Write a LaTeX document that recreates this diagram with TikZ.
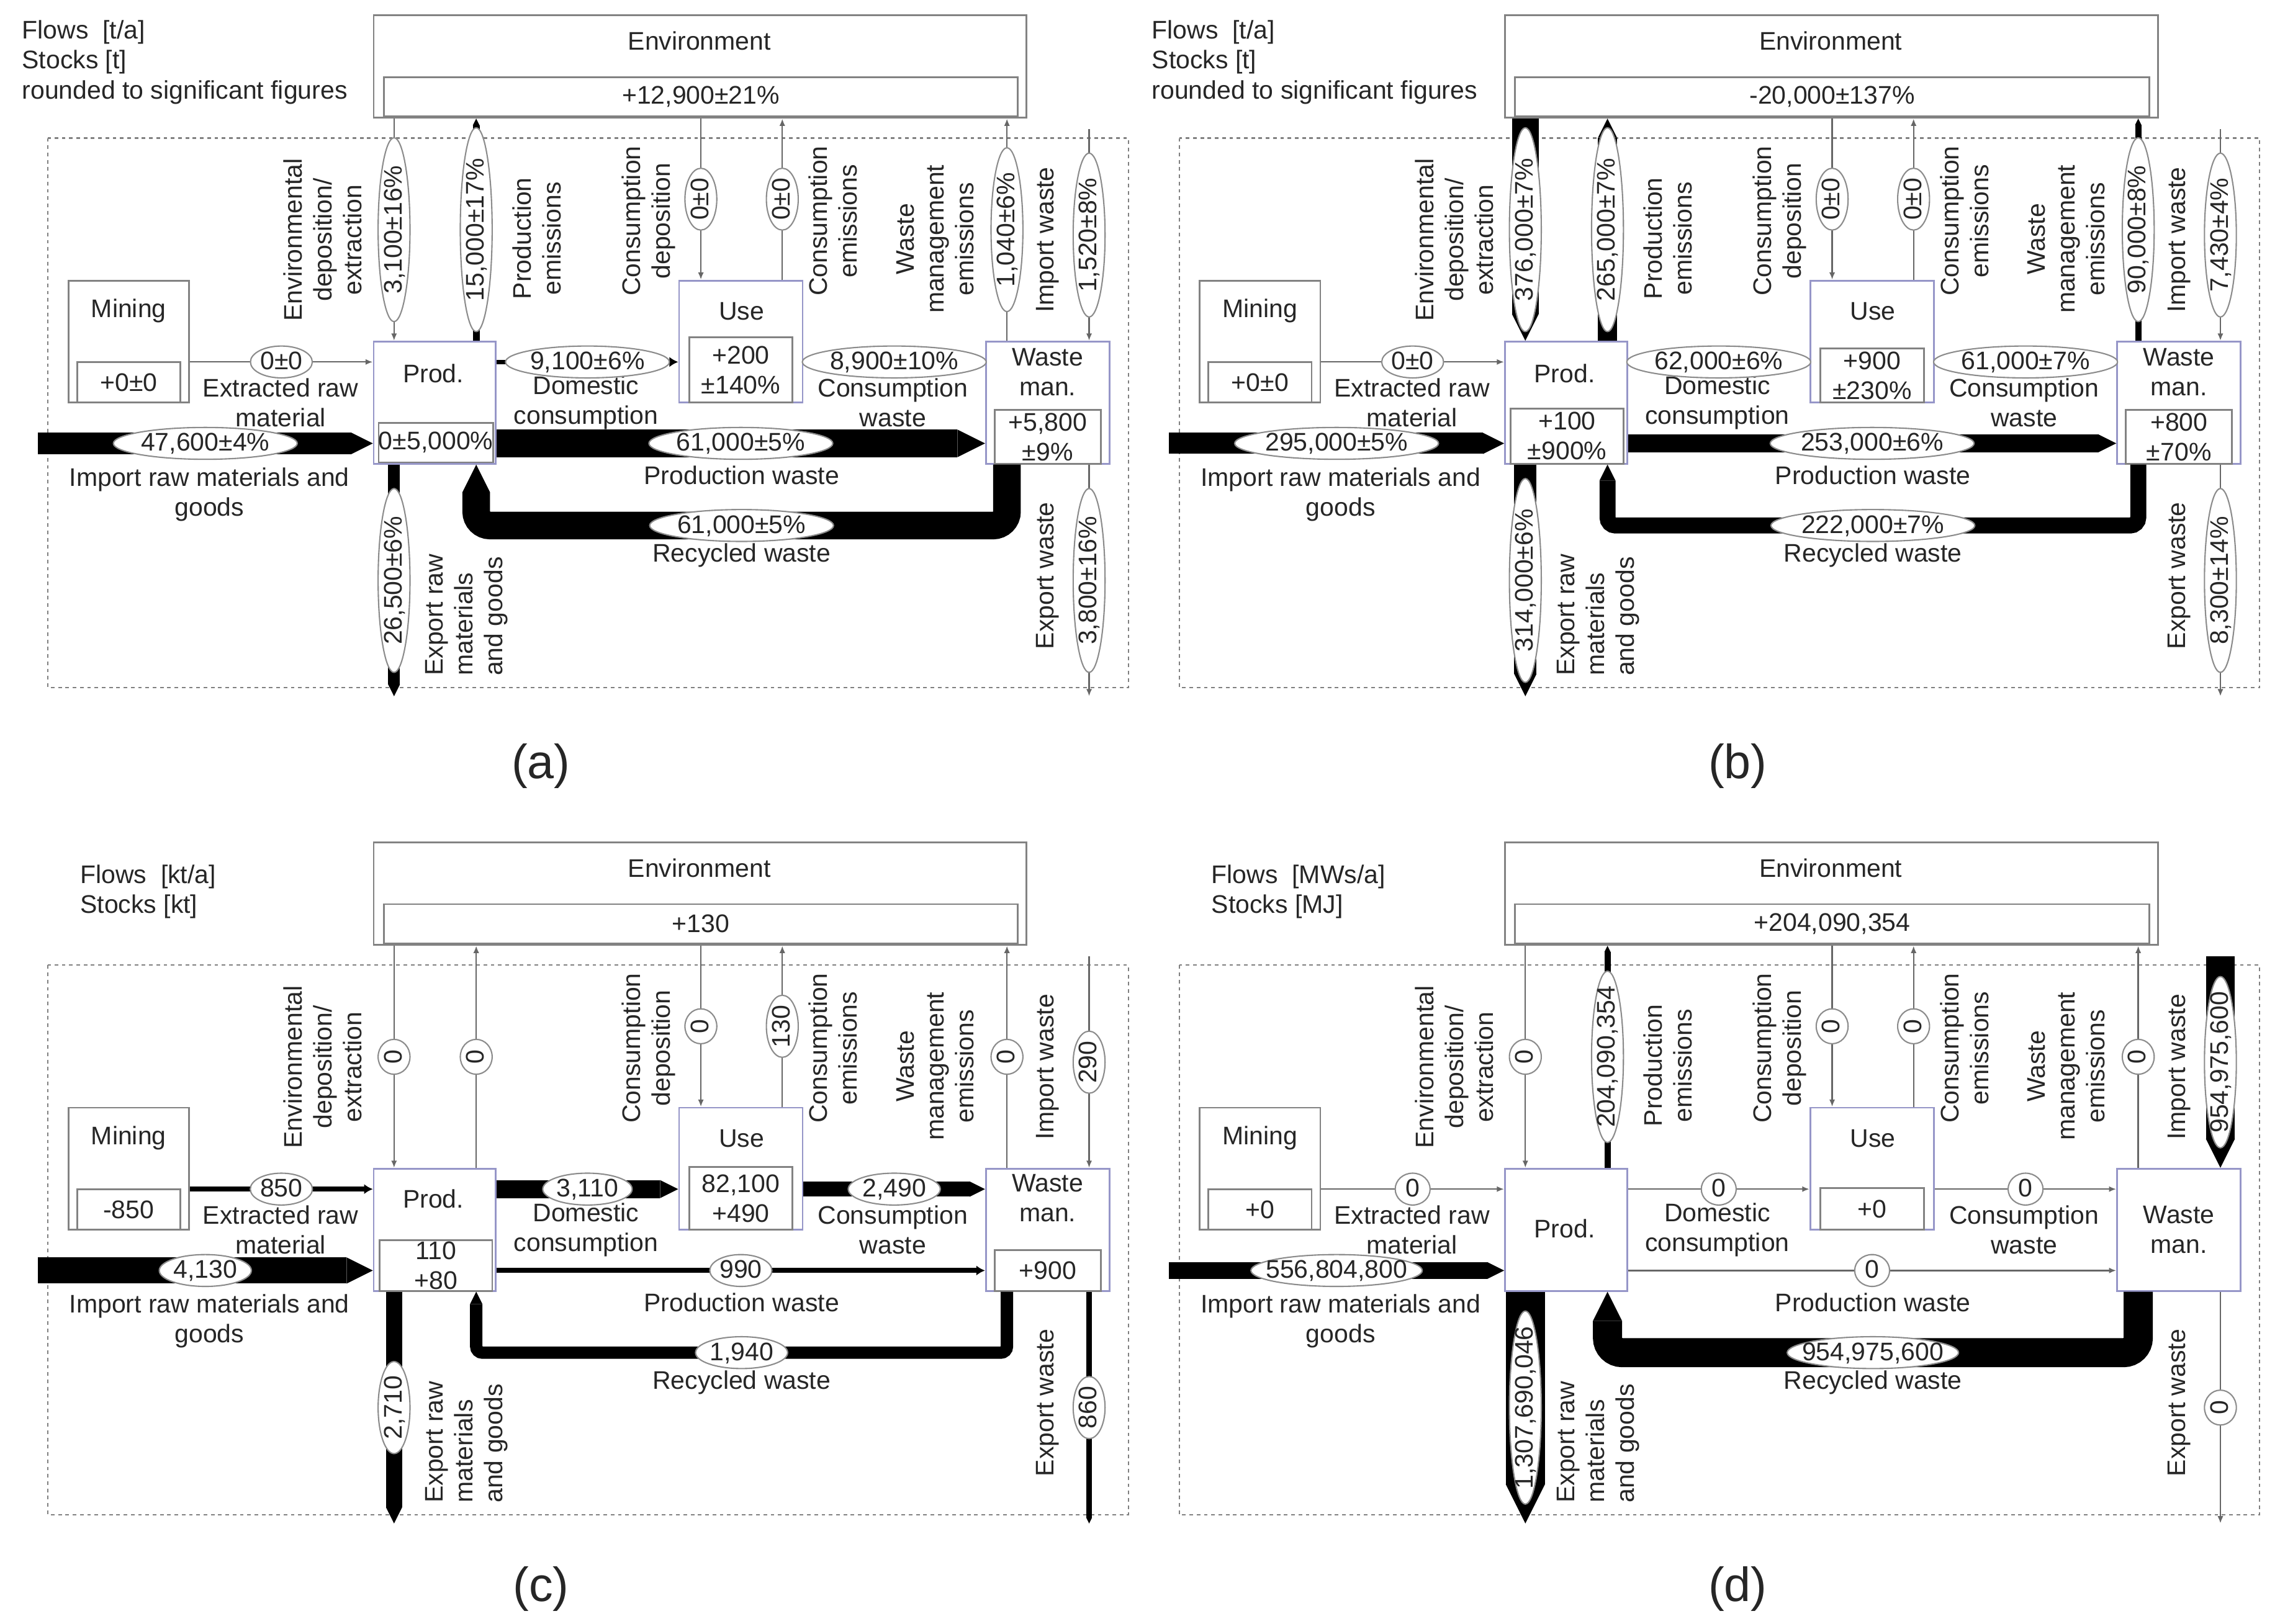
\documentclass[tikz,border=0pt]{standalone}
\usepackage{fontspec}
\setmainfont{Liberation Sans}
\usetikzlibrary{shapes.geometric,arrows.meta}
\definecolor{procline}{RGB}{150,150,200}
\definecolor{boxline}{RGB}{130,130,130}
\begin{document}
\begin{tikzpicture}[x=1pt, y=-1pt,
  font=\fontsize{17.5}{20.5}\selectfont, text=black!85,
  outerbox/.style={draw=boxline, line width=1.2pt},
  procbox/.style={draw=procline, line width=1.2pt, minimum width=84pt, minimum height=84pt},
  stockbox/.style={draw=boxline, line width=1.2pt, align=center, inner sep=0pt},
  boundary/.style={draw=black!50, line width=0.9pt, dash pattern=on 2.5pt off 2.5pt},
  thinflow/.style={draw=black!60, line width=1pt, -{Latex[length=5pt, width=4pt]}},
  medflow/.style={draw=black, line width=#1pt, -{Latex[length=6pt, width=7pt]}},
  bandflow/.style={draw=black, line width=#1pt, -{Triangle[length=0pt 1, width=0pt 1, line width=0pt]}},
  val/.style={ellipse, draw=black!45, line width=0.9pt, fill=white, inner sep=0.5pt, text height=12.5pt, text depth=2pt, minimum width=24pt},
  vlab/.style={rotate=90, align=center, inner sep=0pt},
  hlab/.style={align=center, inner sep=0pt}]

\useasboundingbox[fill=white] (0,0) rectangle (1568,1117);

\begin{scope}
\node[hlab, align=left, anchor=north west] (legA) at (15,14) {Flows\ \ [t/a]\\Stocks [t]\\rounded to significant figures};
\node[outerbox, minimum width=449pt, minimum height=70.5pt] (envA) at (481.5,45.75) {};
\node (envtA) at (481,28) {Environment};
\node[stockbox, minimum width=436pt, minimum height=27pt] (envstA) at (482,66.5) {+12,900±21\%};
\draw[boundary] (33,95) rectangle (776,473);
\node[outerbox, minimum width=83pt, minimum height=84pt] (minA) at (88.5,235) {};
\node (mintA) at (88.5,214) {Mining};
\node[stockbox, minimum width=71pt, minimum height=28pt] (minstA) at (88.5,263) {+0±0};
\node[procbox] (prodA) at (299,277) {};
\node (prodtA) at (298,257) {Prod.};
\node[stockbox, minimum width=77.5pt, minimum height=27pt] (prodstA) at (299.75,304.5) {0±5,000\%};
\node[procbox, minimum width=85pt] (useA) at (509.5,235) {};
\node (usetA) at (510,214) {Use};
\node[stockbox, minimum width=71pt, minimum height=45pt] (usestA) at (509.5,254.5) {+200\\±140\%};
\node[procbox, minimum width=85pt] (wasteA) at (720.5,277) {};
\node[hlab] (wastetA) at (720.5,256) {Waste\\man.};
\node[stockbox, minimum width=73pt, minimum height=37pt] (wastestA) at (720.5,300.5) {+5,800\\±9\%};

\node[vlab] (edlA) at (222,165) {Environmental\\deposition/\\extraction};
\node[vlab] (pelA) at (369,164) {Production\\emissions};
\node[vlab] (cdlA) at (446,152) {Consumption\\deposition};
\node[vlab] (celA) at (573,152) {Consumption\\emissions};
\node[vlab] (welA) at (643,164.5) {Waste\\management\\emissions};
\node[vlab] (iwlA) at (720.5,165) {Import waste};
\node[vlab] (ewlA) at (720.5,396) {Export waste};
\node[vlab, align=left, anchor=west] (erlA) at (321,465) {Export raw\\materials\\and goods};
\node[hlab] (xrlA) at (193,277) {Extracted raw\\material};
\node[hlab] (irlA) at (144,340) {Import raw materials and\\goods};
\node[hlab] (dclA) at (403,277) {Domestic\\consumption};
\node[hlab] (cwlA) at (614,277) {Consumption\\waste};
\node[hlab] (pwlA) at (510,327) {Production waste};
\node[hlab] (rwlA) at (510,382) {Recycled waste};

\coordinate (edA) at (271,0);
\coordinate (peA) at (327.5,0);
\coordinate (cdA) at (482,0);
\coordinate (ceA) at (538,0);
\coordinate (weA) at (692.5,0);
\coordinate (iwA) at (749,89);
\coordinate (upA) at (0,249);
\coordinate (irA) at (26,305);
\coordinate (rcA) at (0,361.5);
\coordinate (exA) at (0,479);

\draw[thinflow] (envA.south -| edA) -- node[val, rotate=90] (vA1) {3,100±16\%} (prodA.north -| edA);
\draw[bandflow=4.7] (prodA.north -| peA) -- node[val, rotate=90] (vA2) {15,000±17\%} (envA.south -| peA);
\draw[thinflow] (envA.south -| cdA) -- node[val, rotate=90] (vA3) {0±0} (useA.north -| cdA);
\draw[thinflow] (useA.north -| ceA) -- node[val, rotate=90] (vA4) {0±0} (envA.south -| ceA);
\draw[thinflow] (wasteA.north -| weA) -- node[val, rotate=90] (vA5) {1,040±6\%} (envA.south -| weA);
\draw[thinflow] (iwA) -- node[val, rotate=90] (vA6) {1,520±8\%} (wasteA.north -| iwA);
\draw[thinflow] (wasteA.south -| iwA) -- node[val, rotate=90] (vA7) {3,800±16\%} (exA -| iwA);
\draw[bandflow=8.2] (prodA.south -| edA) -- node[val, rotate=90] (vA8) {26,500±6\%} (exA -| edA);
\draw[thinflow] (minA.east |- upA) -- node[val] (vA9) {0±0} (prodA.west |- upA);
\draw[bandflow=14.8] (irA) -- node[val] (vA10) {47,600±4\%} (prodA.west |- irA);
\draw[medflow=2.8] (prodA.east |- upA) -- node[val] (vA11) {9,100±6\%} (useA.west |- upA);
\draw[medflow=2.8] (useA.east |- upA) -- node[val] (vA12) {8,900±10\%} (wasteA.west |- upA);
\draw[bandflow=19] (prodA.east |- irA) -- node[val] (vA13) {61,000±5\%} (wasteA.west |- irA);
\draw[bandflow=19, rounded corners=9.5pt] (wasteA.south -| weA) -- (rcA -| weA) -- node[val] (vA14) {61,000±5\%} (rcA -| peA) -- (prodA.south -| peA);
\end{scope}

\begin{scope}[shift={(778,0)}]
\node[hlab, align=left, anchor=north west] (legB) at (14,14) {Flows\ \ [t/a]\\Stocks [t]\\rounded to significant figures};
\node[outerbox, minimum width=449pt, minimum height=70.5pt] (envB) at (481.5,45.75) {};
\node (envtB) at (481,28) {Environment};
\node[stockbox, minimum width=436pt, minimum height=27pt] (envstB) at (482,66.5) {-20,000±137\%};
\draw[boundary] (33,95) rectangle (776,473);
\node[outerbox, minimum width=83pt, minimum height=84pt] (minB) at (88.5,235) {};
\node (mintB) at (88.5,214) {Mining};
\node[stockbox, minimum width=71pt, minimum height=28pt] (minstB) at (88.5,263) {+0±0};
\node[procbox] (prodB) at (299,277) {};
\node (prodtB) at (298,257) {Prod.};
\node[stockbox, minimum width=77.5pt, minimum height=38pt] (prodstB) at (299.75,300) {+100\\±900\%};
\node[procbox, minimum width=85pt] (useB) at (509.5,235) {};
\node (usetB) at (510,214) {Use};
\node[stockbox, minimum width=71pt, minimum height=37.4pt] (usestB) at (509.5,258.3) {+900\\±230\%};
\node[procbox, minimum width=85pt] (wasteB) at (720.5,277) {};
\node[hlab] (wastetB) at (720.5,256) {Waste\\man.};
\node[stockbox, minimum width=73pt, minimum height=37pt] (wastestB) at (720.5,300.5) {+800\\±70\%};

\node[vlab] (edlB) at (222,165) {Environmental\\deposition/\\extraction};
\node[vlab] (pelB) at (369,164) {Production\\emissions};
\node[vlab] (cdlB) at (446,152) {Consumption\\deposition};
\node[vlab] (celB) at (573,152) {Consumption\\emissions};
\node[vlab] (welB) at (643,164.5) {Waste\\management\\emissions};
\node[vlab] (iwlB) at (720.5,165) {Import waste};
\node[vlab] (ewlB) at (720.5,396) {Export waste};
\node[vlab, align=left, anchor=west] (erlB) at (321,465) {Export raw\\materials\\and goods};
\node[hlab] (xrlB) at (193,277) {Extracted raw\\material};
\node[hlab] (irlB) at (144,340) {Import raw materials and\\goods};
\node[hlab] (dclB) at (403,277) {Domestic\\consumption};
\node[hlab] (cwlB) at (614,277) {Consumption\\waste};
\node[hlab] (pwlB) at (510,327) {Production waste};
\node[hlab] (rwlB) at (510,382) {Recycled waste};

\coordinate (edB) at (271,0);
\coordinate (peB) at (327.5,0);
\coordinate (cdB) at (482,0);
\coordinate (ceB) at (538,0);
\coordinate (weB) at (692.5,0);
\coordinate (iwB) at (749,89);
\coordinate (upB) at (0,249);
\coordinate (irB) at (26,305);
\coordinate (rcB) at (0,361.5);
\coordinate (exB) at (0,479);

\draw[bandflow=18.5] (envB.south -| edB) -- node[val, rotate=90] (vB1) {376,000±7\%} (prodB.north -| edB);
\draw[bandflow=13] (prodB.north -| peB) -- node[val, rotate=90] (vB2) {265,000±7\%} (envB.south -| peB);
\draw[thinflow] (envB.south -| cdB) -- node[val, rotate=90] (vB3) {0±0} (useB.north -| cdB);
\draw[thinflow] (useB.north -| ceB) -- node[val, rotate=90] (vB4) {0±0} (envB.south -| ceB);
\draw[bandflow=4.4] (wasteB.north -| weB) -- node[val, rotate=90] (vB5) {90,000±8\%} (envB.south -| weB);
\draw[thinflow] (iwB) -- node[val, rotate=90] (vB6) {7,430±4\%} (wasteB.north -| iwB);
\draw[thinflow] (wasteB.south -| iwB) -- node[val, rotate=90] (vB7) {8,300±14\%} (exB -| iwB);
\draw[bandflow=15.5] (prodB.south -| edB) -- node[val, rotate=90] (vB8) {314,000±6\%} (exB -| edB);
\draw[thinflow] (minB.east |- upB) -- node[val] (vB9) {0±0} (prodB.west |- upB);
\draw[bandflow=14.5] (irB) -- node[val] (vB10) {295,000±5\%} (prodB.west |- irB);
\draw[medflow=3] (prodB.east |- upB) -- node[val] (vB11) {62,000±6\%} (useB.west |- upB);
\draw[medflow=3] (useB.east |- upB) -- node[val] (vB12) {61,000±7\%} (wasteB.west |- upB);
\draw[bandflow=12.5] (prodB.east |- irB) -- node[val] (vB13) {253,000±6\%} (wasteB.west |- irB);
\draw[bandflow=11, rounded corners=5.5pt] (wasteB.south -| weB) -- (rcB -| weB) -- node[val] (vB14) {222,000±7\%} (rcB -| peB) -- (prodB.south -| peB);
\end{scope}

\begin{scope}[shift={(0,569)}]
\node[hlab, align=left, anchor=north west] (legC) at (55,26) {Flows\ \ [kt/a]\\Stocks [kt]};
\node[outerbox, minimum width=449pt, minimum height=70.5pt] (envC) at (481.5,45.75) {};
\node (envtC) at (481,28) {Environment};
\node[stockbox, minimum width=436pt, minimum height=27pt] (envstC) at (482,66.5) {+130};
\draw[boundary] (33,95) rectangle (776,473);
\node[outerbox, minimum width=83pt, minimum height=84pt] (minC) at (88.5,235) {};
\node (mintC) at (88.5,214) {Mining};
\node[stockbox, minimum width=71pt, minimum height=28pt] (minstC) at (88.5,263) {-850};
\node[procbox] (prodC) at (299,277) {};
\node (prodtC) at (298,255.6) {Prod.};
\node[stockbox, minimum width=77.5pt, minimum height=35pt] (prodstC) at (299.75,301.5) {110\\+80};
\node[procbox, minimum width=85pt] (useC) at (509.5,235) {};
\node (usetC) at (510,214) {Use};
\node[stockbox, minimum width=71pt, minimum height=43.4pt] (usestC) at (509.5,255.3) {82,100\\+490};
\node[procbox, minimum width=85pt] (wasteC) at (720.5,277) {};
\node[hlab] (wastetC) at (720.5,255) {Waste\\man.};
\node[stockbox, minimum width=73pt, minimum height=28pt] (wastestC) at (720.5,305) {+900};

\node[vlab] (edlC) at (222,165) {Environmental\\deposition/\\extraction};
\node[vlab] (cdlC) at (446,152) {Consumption\\deposition};
\node[vlab] (celC) at (573,152) {Consumption\\emissions};
\node[vlab] (welC) at (643,164.5) {Waste\\management\\emissions};
\node[vlab] (iwlC) at (720.5,165) {Import waste};
\node[vlab] (ewlC) at (720.5,396) {Export waste};
\node[vlab, align=left, anchor=west] (erlC) at (321,465) {Export raw\\materials\\and goods};
\node[hlab] (xrlC) at (193,277) {Extracted raw\\material};
\node[hlab] (irlC) at (144,340) {Import raw materials and\\goods};
\node[hlab] (dclC) at (403,277) {Domestic\\consumption};
\node[hlab] (cwlC) at (614,277) {Consumption\\waste};
\node[hlab] (pwlC) at (510,327) {Production waste};
\node[hlab] (rwlC) at (510,382) {Recycled waste};

\coordinate (edC) at (271,0);
\coordinate (peC) at (327.5,0);
\coordinate (cdC) at (482,0);
\coordinate (ceC) at (538,0);
\coordinate (weC) at (692.5,0);
\coordinate (iwC) at (749,89);
\coordinate (upC) at (0,249);
\coordinate (irC) at (26,305);
\coordinate (rcC) at (0,361.5);
\coordinate (exC) at (0,479);

\draw[thinflow] (envC.south -| edC) -- node[val, rotate=90] (vC1) {0} (prodC.north -| edC);
\draw[thinflow] (prodC.north -| peC) -- node[val, rotate=90] (vC2) {0} (envC.south -| peC);
\draw[thinflow] (envC.south -| cdC) -- node[val, rotate=90] (vC3) {0} (useC.north -| cdC);
\draw[thinflow] (useC.north -| ceC) -- node[val, rotate=90] (vC4) {130} (envC.south -| ceC);
\draw[thinflow] (wasteC.north -| weC) -- node[val, rotate=90] (vC5) {0} (envC.south -| weC);
\draw[thinflow] (iwC) -- node[val, rotate=90] (vC6) {290} (wasteC.north -| iwC);
\draw[bandflow=4] (wasteC.south -| iwC) -- node[val, rotate=90] (vC7) {860} (exC -| iwC);
\draw[bandflow=11] (prodC.south -| edC) -- node[val, rotate=90] (vC8) {2,710} (exC -| edC);
\draw[medflow=3.5] (minC.east |- upC) -- node[val] (vC9) {850} (prodC.west |- upC);
\draw[bandflow=18] (irC) -- node[val] (vC10) {4,130} (prodC.west |- irC);
\draw[bandflow=12.5] (prodC.east |- upC) -- node[val] (vC11) {3,110} (useC.west |- upC);
\draw[bandflow=10.5] (useC.east |- upC) -- node[val] (vC12) {2,490} (wasteC.west |- upC);
\draw[medflow=3.5] (prodC.east |- irC) -- node[val] (vC13) {990} (wasteC.west |- irC);
\draw[bandflow=8.5, rounded corners=4.25pt] (wasteC.south -| weC) -- (rcC -| weC) -- node[val] (vC14) {1,940} (rcC -| peC) -- (prodC.south -| peC);
\end{scope}

\begin{scope}[shift={(778,569)}]
\node[hlab, align=left, anchor=north west] (legD) at (55,26) {Flows\ \ [MWs/a]\\Stocks [MJ]};
\node[outerbox, minimum width=449pt, minimum height=70.5pt] (envD) at (481.5,45.75) {};
\node (envtD) at (481,28) {Environment};
\node[stockbox, minimum width=436pt, minimum height=27pt] (envstD) at (482,66.5) {+204,090,354};
\draw[boundary] (33,95) rectangle (776,473);
\node[outerbox, minimum width=83pt, minimum height=84pt] (minD) at (88.5,235) {};
\node (mintD) at (88.5,214) {Mining};
\node[stockbox, minimum width=71pt, minimum height=28pt] (minstD) at (88.5,263) {+0};
\node[procbox] (prodD) at (299,277) {};
\node (prodtD) at (298,276) {Prod.};
\node[procbox, minimum width=85pt] (useD) at (509.5,235) {};
\node (usetD) at (510,214) {Use};
\node[stockbox, minimum width=71pt, minimum height=28.6pt] (usestD) at (509.5,262.7) {+0};
\node[procbox, minimum width=85pt] (wasteD) at (720.5,277) {};
\node[hlab] (wastetD) at (720.5,277) {Waste\\man.};

\node[vlab] (edlD) at (222,165) {Environmental\\deposition/\\extraction};
\node[vlab] (pelD) at (369,164) {Production\\emissions};
\node[vlab] (cdlD) at (446,152) {Consumption\\deposition};
\node[vlab] (celD) at (573,152) {Consumption\\emissions};
\node[vlab] (welD) at (643,164.5) {Waste\\management\\emissions};
\node[vlab] (iwlD) at (720.5,165) {Import waste};
\node[vlab] (ewlD) at (720.5,396) {Export waste};
\node[vlab, align=left, anchor=west] (erlD) at (321,465) {Export raw\\materials\\and goods};
\node[hlab] (xrlD) at (193,277) {Extracted raw\\material};
\node[hlab] (irlD) at (144,340) {Import raw materials and\\goods};
\node[hlab] (dclD) at (403,277) {Domestic\\consumption};
\node[hlab] (cwlD) at (614,277) {Consumption\\waste};
\node[hlab] (pwlD) at (510,327) {Production waste};
\node[hlab] (rwlD) at (510,382) {Recycled waste};

\coordinate (edD) at (271,0);
\coordinate (peD) at (327.5,0);
\coordinate (cdD) at (482,0);
\coordinate (ceD) at (538,0);
\coordinate (weD) at (692.5,0);
\coordinate (iwD) at (749,89);
\coordinate (upD) at (0,249);
\coordinate (irD) at (26,305);
\coordinate (rcD) at (0,361.5);
\coordinate (exD) at (0,479);

\draw[thinflow] (envD.south -| edD) -- node[val, rotate=90] (vD1) {0} (prodD.north -| edD);
\draw[bandflow=4.2] (prodD.north -| peD) -- node[val, rotate=90, inner xsep=-7pt] (vD2) {204,090,354} (envD.south -| peD);
\draw[thinflow] (envD.south -| cdD) -- node[val, rotate=90] (vD3) {0} (useD.north -| cdD);
\draw[thinflow] (useD.north -| ceD) -- node[val, rotate=90] (vD4) {0} (envD.south -| ceD);
\draw[thinflow] (wasteD.north -| weD) -- node[val, rotate=90] (vD5) {0} (envD.south -| weD);
\draw[bandflow=20] (iwD) -- node[val, rotate=90, inner xsep=-7pt] (vD6) {954,975,600} (wasteD.north -| iwD);
\draw[thinflow] (wasteD.south -| iwD) -- node[val, rotate=90] (vD7) {0} (exD -| iwD);
\draw[bandflow=27] (prodD.south -| edD) -- node[val, rotate=90, inner xsep=-9pt] (vD8) {1,307,690,046} (exD -| edD);
\draw[thinflow] (minD.east |- upD) -- node[val] (vD9) {0} (prodD.west |- upD);
\draw[bandflow=11.5] (irD) -- node[val, inner xsep=-7pt] (vD10) {556,804,800} (prodD.west |- irD);
\draw[thinflow] (prodD.east |- upD) -- node[val] (vD11) {0} (useD.west |- upD);
\draw[thinflow] (useD.east |- upD) -- node[val] (vD12) {0} (wasteD.west |- upD);
\draw[thinflow] (prodD.east |- irD) -- node[val] (vD13) {0} (wasteD.west |- irD);
\draw[bandflow=20, rounded corners=10pt] (wasteD.south -| weD) -- (rcD -| weD) -- node[val, inner xsep=-7pt] (vD14) {954,975,600} (rcD -| peD) -- (prodD.south -| peD);
\end{scope}

\node[font=\fontsize{33}{40}\selectfont] (capA) at (372,527) {(a)};
\node[font=\fontsize{33}{40}\selectfont] (capB) at (1195,527) {(b)};
\node[font=\fontsize{33}{40}\selectfont] (capC) at (372,1093) {(c)};
\node[font=\fontsize{33}{40}\selectfont] (capD) at (1195,1093) {(d)};

\end{tikzpicture}
\end{document}
